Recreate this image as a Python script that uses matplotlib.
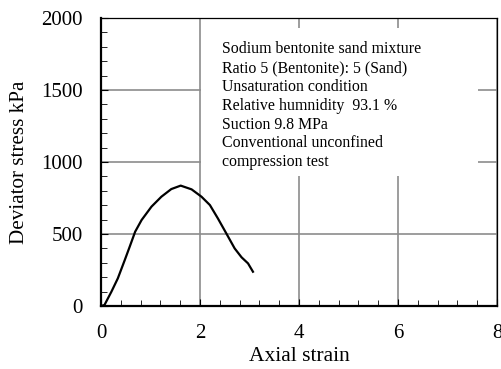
import matplotlib
matplotlib.use("Agg")
import matplotlib.pyplot as plt
from matplotlib.patches import Rectangle
from matplotlib.ticker import MultipleLocator

plt.rcParams['font.family'] = ['Liberation Serif', 'DejaVu Serif']

# stress-strain curve
strain = [0, 0.07, 0.21, 0.34, 0.48, 0.58, 0.69, 0.82, 1.02, 1.22, 1.42,
          1.61, 1.83, 2.03, 2.20, 2.36, 2.53, 2.70, 2.84, 2.97, 3.07]
stress = [0, 7, 99, 192, 319, 412, 516, 597, 690, 759, 812,
          836, 810, 759, 701, 609, 505, 400, 338, 296, 238]

info = ["Sodium bentonite sand mixture",
        "Ratio 5 (Bentonite): 5 (Sand)",
        "Unsaturation condition",
        "Relative humnidity  93.1 %",
        "Suction 9.8 MPa",
        "Conventional unconfined",
        "compression test"]

fig = plt.figure(figsize=(5.01, 3.69), dpi=100)
ax = fig.add_axes([101/501, 1 - 306/369, 396/501, 288/369])

ax.set_xlim(0, 8)
ax.set_ylim(0, 2000)
ax.xaxis.set_major_locator(MultipleLocator(2))
ax.xaxis.set_minor_locator(MultipleLocator(0.4))
ax.yaxis.set_major_locator(MultipleLocator(500))
ax.yaxis.set_minor_locator(MultipleLocator(100))
ax.tick_params(which='both', direction='in', top=False, right=False,
               labelsize=15, pad=13)
ax.tick_params(which='major', length=5)
ax.tick_params(which='minor', length=4)

ax.grid(True, which='major', color='#8c8c8c', linewidth=1.2, zorder=0)
ax.set_axisbelow(True)

for s in ['left', 'bottom']:
    ax.spines[s].set_linewidth(1.6)
for s in ['top', 'right']:
    ax.spines[s].set_linewidth(0.9)

ax.plot(strain, stress, color='black', linewidth=1.6, zorder=3)

# white panel behind the notes
ax.add_patch(Rectangle((2.02, 903), 5.6, 1030, facecolor='white',
                       edgecolor='none', zorder=1))
ax.text(2.44, 1840, "\n".join(info), fontsize=11.4, va='top', ha='left',
        linespacing=1.24, zorder=2)

ax.set_xlabel("Axial strain", fontsize=15.5, labelpad=3)
ax.set_ylabel("Deviator stress kPa", fontsize=15.2, labelpad=9)

fig.savefig("out.png", dpi=100)
